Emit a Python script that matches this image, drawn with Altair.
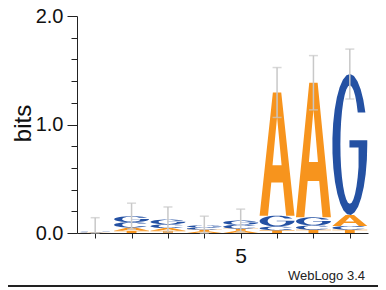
import numpy as np
import pandas as pd
import altair as alt

positions = [1, 2, 3, 4, 5, 6, 7, 8]
bits_A = [0.003, 0.030, 0.025, 0.015, 0.020, 1.135, 1.240, 0.100]
bits_C = [0.003, 0.050, 0.035, 0.020, 0.035, 0.035, 0.040, 0.035]
bits_G = [0.003, 0.055, 0.045, 0.020, 0.040, 0.100, 0.075, 1.300]
bits_T = [0.002, 0.020, 0.020, 0.015, 0.020, 0.025, 0.030, 0.030]
errors = [0.13, 0.12, 0.115, 0.085, 0.105, 0.23, 0.25, 0.23]
letters = ["A", "C", "G", "T"]
colors = ["#F7941D", "#2451A3", "#2451A3", "#F7941D"]
y_ticks = [round(i * 0.2, 1) for i in range(11)]

# ---- glyph outlines in a unit box (font-like templates) ----
def arc(cx, cy, rx, ry, a0, a1, n=28):
    t = np.radians(np.linspace(a0, a1, n))
    return list(zip(cx + rx * np.cos(t), cy + ry * np.sin(t)))

def glyph_A():
    outer = [(0, 0), (0.38, 1), (0.62, 1), (1, 0), (0.76, 0), (0.665, 0.27), (0.335, 0.27)]
    hole = [(0.37, 0.41), (0.63, 0.41), (0.5, 0.80), (0.37, 0.41)]
    return outer + hole + [(0.335, 0.27), (0.24, 0)]

def glyph_C():
    a_out = 30
    iry, irx = 0.41, 0.27
    yt = 0.5 + 0.5 * np.sin(np.radians(a_out))
    a_in = np.degrees(np.arcsin((yt - 0.5) / iry))
    return arc(0.5, 0.5, 0.5, 0.5, a_out, 360 - a_out) + arc(0.5, 0.5, irx, iry, -a_in, -360 + a_in)

def glyph_G():
    a_out = 27
    iry, irx = 0.42, 0.27
    yt = 0.5 + 0.5 * np.sin(np.radians(a_out))
    a_in = np.degrees(np.arcsin((yt - 0.5) / iry))
    stem = 0.75
    a_b = -np.degrees(np.arccos((stem - 0.5) / irx))
    pts = arc(0.5, 0.5, 0.5, 0.5, a_out, 360)
    pts += [(1, 0.53), (0.49, 0.53), (0.49, 0.48), (stem, 0.48)]
    pts += arc(0.5, 0.5, irx, iry, a_b, -360 + a_in)
    return pts

def glyph_T():
    return [(0, 1), (1, 1), (1, 0.82), (0.64, 0.82), (0.64, 0), (0.36, 0), (0.36, 0.82), (0, 0.82)]

glyphs = {"A": glyph_A(), "C": glyph_C(), "G": glyph_G(), "T": glyph_T()}

rows = []
err_rows = []
margin = 0.02
for i, p in enumerate(positions):
    h = {"A": bits_A[i], "C": bits_C[i], "G": bits_G[i], "T": bits_T[i]}
    order = sorted(letters, key=lambda L: h[L])
    y0 = 0.0
    for L in order:
        for k, (u, v) in enumerate(glyphs[L]):
            rows.append({"id": f"{p}{L}", "letter": L, "k": k,
                         "x": p - 0.5 + margin + u * (1 - 2 * margin),
                         "y": y0 + v * h[L]})
        y0 += h[L]
    err_rows.append({"x": p, "lo": max(0.0, y0 - errors[i]), "hi": y0 + errors[i]})

df = pd.DataFrame(rows)
df_err = pd.DataFrame(err_rows)

narrow = "Liberation Sans Narrow, Arial Narrow, Liberation Sans, sans-serif"
xscale = alt.Scale(domain=[0.5, 8.5], nice=False, zero=False)
yscale = alt.Scale(domain=[0, 2], nice=False, zero=False)

xaxis = alt.Axis(values=positions, labelExpr="datum.value == 5 ? '5' : ''",
                 tickSize=5, labelPadding=7, labelFont=narrow, labelFontSize=21,
                 labelColor="#111", title=None, grid=False, labelOverlap=False,
                 labelFlush=False, domainColor="#222", tickColor="#222")
yaxis = alt.Axis(values=y_ticks, labelExpr="datum.value % 1 == 0 ? format(datum.value, '.1f') : ''",
                 tickSize={"condition": {"test": "datum.value % 1 == 0", "value": 10}, "value": 6},
                 labelPadding=4, labelFont=narrow, labelFontSize=20, labelColor="#111",
                 grid=False, labelOverlap=False, labelFlush=False,
                 domainColor="#222", tickColor="#222",
                 title="bits", titleFont="Liberation Sans", titleFontSize=24,
                 titleFontWeight="normal", titleColor="#111", titleX=-47, titleY=107,
                 titleAngle=270, titleAlign="center", titleBaseline="alphabetic")

logo = alt.Chart(df).mark_line(filled=True, strokeWidth=0, interpolate="linear").encode(
    x=alt.X("x:Q", scale=xscale, axis=xaxis),
    y=alt.Y("y:Q", scale=yscale, axis=yaxis),
    detail="id:N",
    order="k:Q",
    color=alt.Color("letter:N", scale=alt.Scale(domain=letters, range=colors), legend=None),
)

ebar = alt.Chart(df_err).mark_rule(color="#c8c8c8", strokeWidth=1.5).encode(
    x=alt.X("x:Q", scale=xscale, axis=xaxis),
    y=alt.Y("lo:Q", scale=yscale, axis=yaxis),
    y2="hi:Q",
)
cap_hi = alt.Chart(df_err).mark_tick(color="#c8c8c8", thickness=1.5, size=9, orient="horizontal").encode(
    x=alt.X("x:Q", scale=xscale, axis=xaxis),
    y=alt.Y("hi:Q", scale=yscale, axis=yaxis),
)
cap_lo = alt.Chart(df_err).mark_tick(color="#c8c8c8", thickness=1.5, size=9, orient="horizontal").encode(
    x=alt.X("x:Q", scale=xscale, axis=xaxis),
    y=alt.Y("lo:Q", scale=yscale, axis=yaxis),
)

credit = alt.Chart(pd.DataFrame({"t": ["WebLogo 3.4"]})).mark_text(
    align="right", baseline="alphabetic", font="Liberation Sans", fontSize=13, color="#222"
).encode(text="t:N", x=alt.value(288), y=alt.value(263.5))

bottom = alt.Chart(pd.DataFrame({"a": [0]})).mark_rule(color="#222", strokeWidth=2).encode(
    x=alt.value(-69), x2=alt.value(301), y=alt.value(270)
)

chart = alt.layer(logo, ebar, cap_hi, cap_lo, credit, bottom).properties(
    width=291, height=217,
    padding={"left": 69, "top": 8, "right": 10, "bottom": 55},
    autosize=alt.AutoSizeParams(type="none"),
).configure_view(stroke=None).configure_axis(labelOverlap=False)

chart.save("out.html", embed_options={"renderer": "svg", "actions": False})
